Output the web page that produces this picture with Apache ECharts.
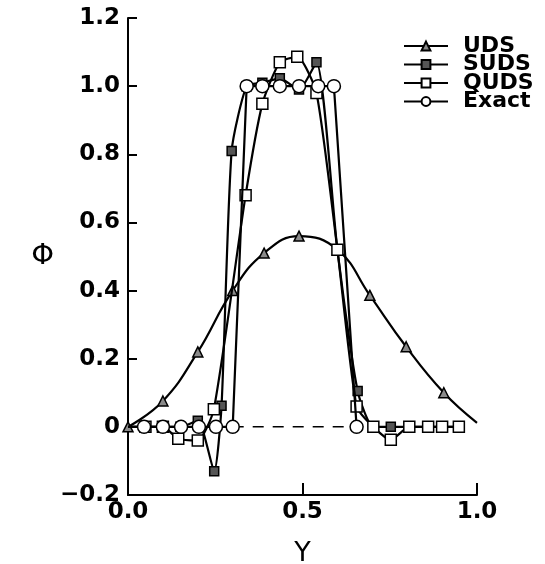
<!DOCTYPE html>
<html>
<head>
<meta charset="utf-8">
<script src="https://cdn.jsdelivr.net/npm/echarts@6/dist/echarts.min.js"></script>
<style>html,body{margin:0;padding:0;background:#fff}#c{width:545px;height:564px}</style>
</head>
<body>
<div id="c"></div>
<script>
// Tick labels
var xTicks = [0.0, 0.5, 1.0];
var yTicks = [-0.2, 0, 0.2, 0.4, 0.6, 0.8, 1.0, 1.2];

// Series values [Y, phi]
var udsData = [[0,0],[0.10,0.076],[0.20,0.22],[0.30,0.40],[0.39,0.51],[0.49,0.56],[0.60,0.52],[0.693,0.386],[0.797,0.235],[0.905,0.10],[1.0,0.012]];
var sudsData = [[0,0],[0.05,0],[0.10,0],[0.15,0],[0.20,0.018],[0.247,-0.13],[0.268,0.062],[0.297,0.81],[0.34,1.0],[0.385,1.01],[0.435,1.023],[0.49,0.99],[0.54,1.07],[0.60,0.52],[0.658,0.105],[0.703,0],[0.753,0],[0.806,0],[0.86,0],[0.90,0],[0.948,0]];
var qudsData = [[0,0],[0.05,0],[0.10,0],[0.144,-0.035],[0.20,-0.04],[0.246,0.052],[0.337,0.68],[0.385,0.948],[0.435,1.07],[0.485,1.086],[0.54,0.98],[0.60,0.52],[0.655,0.06],[0.703,0],[0.753,-0.038],[0.806,0],[0.86,0],[0.90,0],[0.948,0]];
var exactData = [[0,0],[0.046,0],[0.10,0],[0.152,0],[0.203,0],[0.252,0],[0.30,0],[0.34,1.0],[0.385,1.0],[0.435,1.0],[0.49,1.0],[0.545,1.0],[0.59,1.0],[0.655,0]];
var exactGap = [[0.30,0],[0.655,0]];

var FONT = 'DejaVu Sans';
function noSymbolEnds(arr, first, last) {
  return arr.map(function (p, i) {
    if ((first && i === 0) || (last && i === arr.length - 1)) return { value: p, symbol: 'none' };
    return p;
  });
}

var chart = echarts.init(document.getElementById('c'), null, { renderer: 'canvas' });
chart.setOption({
  animation: false,
  backgroundColor: '#fff',
  grid: { left: 128, right: 68, top: 18, bottom: 69, containLabel: false, outerBoundsMode: 'none' },
  legend: {
    orient: 'vertical',
    left: 403,
    top: 35,
    padding: 0,
    itemWidth: 44,
    itemHeight: 11,
    itemGap: -3.5,
    textStyle: { fontFamily: FONT, fontWeight: 'bold', fontSize: 22, color: '#000', padding: [0, 0, 0, 10] },
    data: ['UDS', 'SUDS', 'QUDS', 'Exact']
  },
  xAxis: {
    type: 'value', min: 0, max: 1, interval: 0.5,
    name: 'Y', nameLocation: 'middle', nameGap: 45,
    nameTextStyle: { fontFamily: FONT, fontSize: 27, color: '#000' },
    axisLine: { show: true, onZero: false, lineStyle: { color: '#000', width: 2 } },
    axisTick: { show: true, inside: true, length: 12, lineStyle: { color: '#000', width: 2 } },
    axisLabel: { fontFamily: FONT, fontWeight: 'bold', fontSize: 23, color: '#000', margin: 6,
      formatter: function (v) { return xTicks.indexOf(v) >= 0 ? v.toFixed(1) : ''; } },
    splitLine: { show: false }
  },
  yAxis: {
    type: 'value', min: -0.2, max: 1.2, interval: 0.2,
    name: 'Φ', nameLocation: 'middle', nameRotate: 0, nameGap: 66,
    nameTextStyle: { fontFamily: FONT, fontSize: 29, color: '#000' },
    axisLine: { show: true, onZero: false, lineStyle: { color: '#000', width: 2 } },
    axisTick: { show: true, inside: true, length: 9, lineStyle: { color: '#000', width: 2 } },
    axisLabel: { fontFamily: FONT, fontWeight: 'bold', fontSize: 23, color: '#000', margin: 8,
      formatter: function (v) {
        var r = Math.round(v * 10) / 10;
        if (yTicks.indexOf(r) < 0) return '';
        if (r === 0) return '0';
        if (r < 0) return '\u2212' + Math.abs(r).toFixed(1);
        return r.toFixed(1);
      } },
    splitLine: { show: false }
  },
  series: [
    {
      name: 'Exact gap', type: 'line', data: exactGap, showSymbol: false, symbol: 'none',
      lineStyle: { color: '#000', width: 1.5, type: [11, 9] }, z: 1, silent: true
    },
    {
      name: 'UDS', type: 'line', data: noSymbolEnds(udsData, false, true), smooth: 0.45,
      symbol: 'triangle', symbolSize: 10,
      itemStyle: { color: '#8a8a8a', borderColor: '#000', borderWidth: 1.5 },
      lineStyle: { color: '#000', width: 2.2 }, z: 2
    },
    {
      name: 'SUDS', type: 'line', data: noSymbolEnds(sudsData, true, false), smooth: 0.2,
      symbol: 'rect', symbolSize: 9,
      itemStyle: { color: '#555', borderColor: '#000', borderWidth: 1.5 },
      lineStyle: { color: '#000', width: 2.2 }, z: 3
    },
    {
      name: 'QUDS', type: 'line', data: noSymbolEnds(qudsData, true, false), smooth: 0.2,
      symbol: 'rect', symbolSize: 11,
      itemStyle: { color: '#fff', borderColor: '#000', borderWidth: 1.5 },
      lineStyle: { color: '#000', width: 2.2 }, z: 4
    },
    {
      name: 'Exact', type: 'line', data: noSymbolEnds(exactData, true, false),
      symbol: 'circle', symbolSize: 13,
      itemStyle: { color: '#fff', borderColor: '#000', borderWidth: 1.5 },
      lineStyle: { color: '#000', width: 2.2 }, z: 5
    }
  ]
});
</script>
</body>
</html>
